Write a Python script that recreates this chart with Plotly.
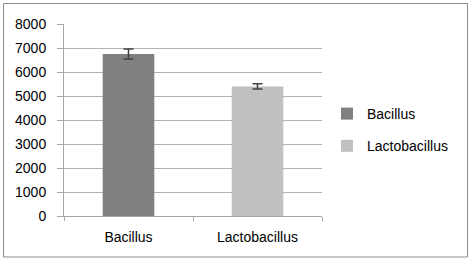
import plotly.graph_objects as go

categories = ["Bacillus", "Lactobacillus"]
values = [6750, 5400]
errors = [210, 110]
colors = ["#808080", "#c0c0c0"]
y_ticks = [0, 1000, 2000, 3000, 4000, 5000, 6000, 7000, 8000]

W, H = 474, 261
L, R, T, B = 64, 152, 24, 45
pw, ph = W - L - R, H - T - B

def px_x(x):
    return (x - L) / pw

def px_y(y):
    return (H - B - y) / ph

fig = go.Figure()
for i, (c, v, e, col) in enumerate(zip(categories, values, errors, colors)):
    fig.add_trace(go.Bar(
        x=[c], y=[v], name=c, width=0.4,
        marker=dict(color=col, line=dict(color=col, width=0)),
        error_y=dict(type="data", array=[e], visible=True, color="#404040", thickness=1.5, width=5),
        legendgroup=c,
    ))

font = dict(family="Liberation Sans, Arial", size=14, color="#000000")
fig.update_layout(
    width=W, height=H,
    margin=dict(l=L, r=R, t=T, b=B, pad=0),
    paper_bgcolor="white", plot_bgcolor="white",
    barmode="overlay",
    showlegend=True,
    font=font,
    legend=dict(x=px_x(327), y=px_y(98), xanchor="left", yanchor="top",
                traceorder="grouped", tracegroupgap=11, font=font,
                itemwidth=30, bgcolor="rgba(0,0,0,0)"),
    xaxis=dict(type="category", categoryorder="array", categoryarray=categories,
               showline=True, linecolor="#a6a6a6", linewidth=1,
               ticks="outside", tickson="boundaries", ticklen=4, tickcolor="#a6a6a6",
               showgrid=False, tickfont=font, ticklabelstandoff=8),
    yaxis=dict(range=[0, 8000], tickvals=y_ticks, ticktext=[str(t) for t in y_ticks],
               showline=True, linecolor="#a6a6a6", linewidth=1,
               ticks="outside", ticklen=6, tickcolor="#a6a6a6",
               showgrid=True, gridcolor="#b3b3b3", gridwidth=1,
               zeroline=False, tickfont=font, ticklabelstandoff=8),
    shapes=[dict(type="rect", xref="paper", yref="paper",
                 x0=px_x(3.5), x1=px_x(467.5), y0=px_y(257), y1=px_y(3.5),
                 line=dict(color="#8c8c8c", width=1), fillcolor="rgba(0,0,0,0)", layer="below")],
)
fig.write_html("out.html", config={"displayModeBar": False},
               post_script="document.body.style.margin='0';")
